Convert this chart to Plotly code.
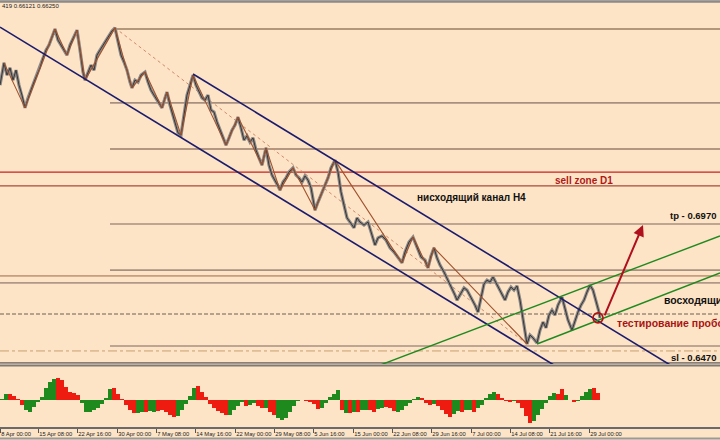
import plotly.graph_objects as go

# ---------------- data ----------------
# price path (bar index, price)
price_x = [0, 4, 7, 10, 13, 16, 19, 22, 25, 28, 31, 34, 37, 40, 43, 46, 49, 52, 55, 58,
           61, 64, 67, 70, 73, 77, 80, 83, 85, 88, 91, 94, 97, 100, 103, 106, 109, 112, 115, 118,
           121, 124, 127, 130, 132, 135, 138, 141, 145, 148, 151, 154, 157, 160, 162, 165, 167, 170, 173, 176,
           178, 181, 184, 187, 190, 193, 196, 199, 202, 205, 208, 211, 214, 217, 220, 223, 226, 229, 232, 235,
           238, 241, 244, 247, 250, 253, 256, 259, 262, 266, 269, 272, 275, 278, 280, 283, 286, 289, 293, 296,
           299, 302, 305, 308, 311, 313, 315, 318, 321, 325, 328, 331, 335, 338, 341, 344, 347, 350, 354, 357,
           360, 364, 368, 372, 375, 378, 382, 386, 390, 394, 398, 402, 405, 409, 413, 417, 421, 425, 428, 431,
           434, 437, 440, 444, 448, 452, 455, 457, 461, 464, 467, 471, 475, 478, 481, 484, 487, 490, 493, 496,
           499, 502, 505, 508, 511, 514, 517, 520, 522, 524, 527, 530, 533, 537, 540, 543, 546, 549, 552, 555,
           558, 562, 565, 568, 572, 575, 578, 581, 584, 587, 590, 593, 596, 599, 600]
price_y = [0.7470, 0.7550, 0.7506, 0.7532, 0.7488, 0.7524, 0.7470, 0.7434, 0.7388, 0.7424,
           0.7452, 0.7481, 0.7506, 0.7532, 0.7568, 0.7596, 0.7614, 0.7640, 0.7672, 0.7632,
           0.7614, 0.7596, 0.7578, 0.7614, 0.7640, 0.7668, 0.7596, 0.7517, 0.7488, 0.7517,
           0.7542, 0.7524, 0.7578, 0.7596, 0.7614, 0.7632, 0.7650, 0.7665, 0.7676, 0.7632,
           0.7578, 0.7553, 0.7524, 0.7481, 0.7460, 0.7488, 0.7481, 0.7506, 0.7517, 0.7481,
           0.7452, 0.7434, 0.7416, 0.7398, 0.7388, 0.7424, 0.7445, 0.7398, 0.7362, 0.7326,
           0.7298, 0.7290, 0.7362, 0.7434, 0.7470, 0.7506, 0.7470, 0.7445, 0.7424, 0.7416,
           0.7434, 0.7380, 0.7373, 0.7337, 0.7308, 0.7280, 0.7254, 0.7280, 0.7308, 0.7326,
           0.7355, 0.7316, 0.7272, 0.7287, 0.7265, 0.7280, 0.7236, 0.7208, 0.7182, 0.7244,
           0.7182, 0.7146, 0.7128, 0.7107, 0.7092, 0.7121, 0.7136, 0.7157, 0.7172, 0.7146,
           0.7136, 0.7121, 0.7143, 0.7128, 0.7100, 0.7056, 0.7020, 0.7049, 0.7074, 0.7110,
           0.7136, 0.7172, 0.7200, 0.7157, 0.7085, 0.7038, 0.6992, 0.6977, 0.6956, 0.6992,
           0.6977, 0.6966, 0.6977, 0.6930, 0.6894, 0.6920, 0.6927, 0.6912, 0.6884, 0.6869,
           0.6848, 0.6830, 0.6869, 0.6905, 0.6923, 0.6884, 0.6851, 0.6840, 0.6812, 0.6855,
           0.6884, 0.6848, 0.6822, 0.6797, 0.6768, 0.6740, 0.6714, 0.6696, 0.6722, 0.6740,
           0.6732, 0.6707, 0.6678, 0.6653, 0.6704, 0.6754, 0.6768, 0.6761, 0.6779, 0.6758,
           0.6740, 0.6714, 0.6696, 0.6725, 0.6743, 0.6732, 0.6747, 0.6696, 0.6653, 0.6596,
           0.6538, 0.6570, 0.6560, 0.6542, 0.6588, 0.6617, 0.6596, 0.6642, 0.6660, 0.6642,
           0.6678, 0.6707, 0.6668, 0.6624, 0.6588, 0.6624, 0.6653, 0.6678, 0.6696, 0.6725,
           0.6750, 0.6732, 0.6696, 0.6653, 0.6632]

# ZigZag pivots
zig_x = [4, 25, 55, 67, 77, 85, 115, 132, 145, 162, 167, 181, 193, 226, 238, 262, 266, 280,
         293, 315, 335, 402, 413, 428, 434, 527]
zig_y = [0.7550, 0.7388, 0.7672, 0.7578, 0.7668, 0.7488, 0.7676, 0.7460, 0.7517, 0.7388,
         0.7445, 0.7290, 0.7506, 0.7254, 0.7355, 0.7182, 0.7244, 0.7092, 0.7172, 0.7020,
         0.7200, 0.6830, 0.6923, 0.6812, 0.6884, 0.6538]

# dotted trend line (high -> low)
trend_x = [115, 527]
trend_y = [0.7676, 0.6538]

# descending channel H4
down_lower_x = [0, 560]
down_lower_y = [0.7679, 0.6449]
down_upper_x = [193, 675]
down_upper_y = [0.7510, 0.6452]

# ascending channel
up_upper_x = [380, 720]
up_upper_y = [0.6462, 0.6927]
up_lower_x = [537, 720]
up_lower_y = [0.6538, 0.6794]

# horizontal levels
level_prices = [0.7672, 0.7406, 0.7240, 0.7157, 0.7107, 0.6970, 0.6804, 0.6783,
                0.6758, 0.6646, 0.6531, 0.6513, 0.6470]
level_start = [113, 110, 110, 0, 0, 110, 110, 0, 0, 0, 110, 0, 0]

# trade idea
entry_x, entry_y = 598, 0.6632
arrow_tail = (604, 0.6636)
arrow_tip = (643, 0.6966)

# oscillator histogram
osc_x = [2 + 4 * i for i in range(150)]
osc_v = [1, 6, 6, 4, 1, -5, -10, -12, -7, -2, 3, 12, 18, 21, 22, 20, 13, 8, 7, 5,
         -3, -12, -12, -10, -8, -4, 2, 11, 12, 6, 1, -5, -10, -13, -13, -12, -12, -11, -12, -11,
         -10, -12, -15, -17, -16, -10, -4, 4, 12, 14, 8, 3, -4, -8, -11, -13, -15, -15, -10, -6,
         -2, -6, -5, -3, -6, -8, -8, -12, -15, -18, -20, -18, -12, -6, -1, 0, -1, -2, -4, -9,
         -8, -3, 3, 6, 10, -10, -13, -13, -12, -12, -10, -10, -10, -12, -9, -8, -7, -8, -11, -12,
         -10, -6, -3, 1, 3, 2, -3, -5, -4, -6, -10, -14, -17, -14, -11, -12, -10, -10, -12, -8,
         -5, 2, 6, 8, 6, 2, -1, -2, -1, -3, -8, -16, -23, -21, -15, -9, -3, 4, 7, 6,
         11, 5, 0, -2, -1, 4, 8, 11, 12, 7]
osc_state = ("ggrrrrggggggggrrrrrr" "ggggggggrrrrrrggrggr" "rrrrgggggrrrrrrrrggg"
             "grggrrgrrggggggrrrrr" "gggggrgrgrggrrggrrrg" "gggggrrrgrrrrggrggrg"
             "ggggrrrrgrrrrggggggr" "rgrrggggrr")

tick_pos = [0, 38, 77, 117, 156, 195, 235, 274, 313, 353, 392, 431, 471, 510, 549, 589]
tick_text = ["8 Apr 00:00", "15 Apr 08:00", "22 Apr 16:00", "30 Apr 00:00", "7 May 08:00",
             "14 May 16:00", "22 May 00:00", "29 May 08:00", "5 Jun 16:00", "15 Jun 00:00",
             "22 Jun 08:00", "29 Jun 16:00", "7 Jul 00:00", "14 Jul 08:00", "21 Jul 16:00",
             "29 Jul 00:00"]

# ---------------- styles ----------------
BG = "#FDE4C6"
level_styles = [
    dict(color="#6b4a30", width=1.2, dash="solid"),
    dict(color="#a89080", width=1.6, dash="solid"),
    dict(color="#6b4a3a", width=1.0, dash="solid"),
    dict(color="#c82020", width=1.3, dash="solid"),
    dict(color="#a84a38", width=1.3, dash="solid"),
    dict(color="#a89080", width=1.6, dash="solid"),
    dict(color="#a89080", width=1.6, dash="solid"),
    dict(color="#a06848", width=1.0, dash="solid"),
    dict(color="#b09888", width=1.6, dash="solid"),
    dict(color="#6e5e50", width=1.0, dash="4px,2px"),
    dict(color="#a89080", width=1.6, dash="solid"),
    dict(color="#c8a070", width=1.0, dash="dashdot"),
    dict(color="#8a8078", width=1.6, dash="solid"),
]

fig = go.Figure()

for p, s, st in zip(level_prices, level_start, level_styles):
    fig.add_trace(go.Scatter(x=[s, 720], y=[p, p], mode="lines", line=st,
                             hoverinfo="skip", showlegend=False))

# dotted trend line
fig.add_trace(go.Scatter(x=trend_x, y=trend_y, mode="lines",
                         line=dict(color="#d08a6a", width=1, dash="dot"), showlegend=False))

# price (thick light + thin dark to mimic bars)
fig.add_trace(go.Scatter(x=price_x, y=price_y, mode="lines",
                         line=dict(color="#8c8a88", width=3.2), showlegend=False))
fig.add_trace(go.Scatter(x=price_x, y=price_y, mode="lines",
                         line=dict(color="#3a3636", width=1.0), showlegend=False))

# zigzag
fig.add_trace(go.Scatter(x=zig_x, y=zig_y, mode="lines",
                         line=dict(color="#a0522d", width=1.1), showlegend=False))

# channels
navy = "#1c1c6e"
fig.add_trace(go.Scatter(x=down_lower_x, y=down_lower_y, mode="lines",
                         line=dict(color=navy, width=1.6), showlegend=False))
fig.add_trace(go.Scatter(x=down_upper_x, y=down_upper_y, mode="lines",
                         line=dict(color=navy, width=1.6), showlegend=False))
green = "#1f8a1f"
fig.add_trace(go.Scatter(x=up_upper_x, y=up_upper_y, mode="lines",
                         line=dict(color=green, width=1.4), showlegend=False))
fig.add_trace(go.Scatter(x=up_lower_x, y=up_lower_y, mode="lines",
                         line=dict(color=green, width=1.4), showlegend=False))

# entry circle
fig.add_trace(go.Scatter(x=[entry_x], y=[entry_y], mode="markers",
                         marker=dict(symbol="circle-open", size=10, color="#b01010",
                                     line=dict(width=1.6, color="#b01010")),
                         showlegend=False))

# oscillator
osc_colors = ["#1e8a1e" if c == "g" else "#ee1c10" for c in osc_state]
fig.add_trace(go.Bar(x=osc_x, y=osc_v, width=4, marker=dict(color=osc_colors, line=dict(width=0)),
                     xaxis="x2", yaxis="y2", showlegend=False))

FONT = "Liberation Sans, Arial, sans-serif"
ann = [
    dict(x=584, y=0.7128, text="<b>sell zone D1</b>", font=dict(color="#b01818", size=10)),
    dict(x=415, y=0.7067, text="<b>нисходящий канал H4</b>", xanchor="left",
         font=dict(color="#111111", size=10)),
    dict(x=718, y=0.7002, text="<b>tp - 0.6970</b>", xanchor="right",
         font=dict(color="#111111", size=9.5)),
    dict(x=662, y=0.6696, text="<b>восходящий канал</b>", xanchor="left",
         font=dict(color="#111111", size=10.5)),
    dict(x=615, y=0.6614, text="<b>тестирование пробоя</b>", xanchor="left",
         font=dict(color="#a81414", size=10.5)),
    dict(x=718, y=0.6491, text="<b>sl - 0.6470</b>", xanchor="right",
         font=dict(color="#111111", size=9.5)),
]
annotations = []
for a in ann:
    d = dict(xref="x", yref="y", showarrow=False, yanchor="middle", xanchor="center")
    d.update(a)
    d["font"] = dict(family=FONT, **a["font"])
    annotations.append(d)

annotations.append(dict(xref="x", yref="y", axref="x", ayref="y",
                        x=arrow_tip[0], y=arrow_tip[1], ax=arrow_tail[0], ay=arrow_tail[1],
                        text="", showarrow=True, arrowhead=2, arrowsize=1.1, arrowwidth=2,
                        arrowcolor="#b0101e"))
annotations.append(dict(xref="paper", yref="paper", x=0, y=1 - 6 / 440, xanchor="left",
                        yanchor="middle", showarrow=False, text="419 0.66121 0.66250",
                        font=dict(family=FONT, size=6, color="#222222")))

shapes = [
    dict(type="line", xref="paper", yref="paper", x0=0, x1=1, y0=1 - 1.5 / 440, y1=1 - 1.5 / 440,
         line=dict(color="#8a8a8a", width=2.5)),
    dict(type="line", xref="paper", yref="paper", x0=0, x1=1, y0=1 - 365.5 / 440, y1=1 - 365.5 / 440,
         line=dict(color="#7e7a76", width=2)),
    dict(type="line", xref="paper", yref="paper", x0=0, x1=1, y0=1 - 438.5 / 440, y1=1 - 438.5 / 440,
         line=dict(color="#9a9a9a", width=2)),
]

fig.update_layout(
    width=720, height=440,
    margin=dict(l=0, r=0, t=0, b=0),
    paper_bgcolor=BG, plot_bgcolor=BG,
    bargap=0,
    xaxis=dict(domain=[0, 1], range=[0, 720], visible=False, anchor="y"),
    yaxis=dict(domain=[1 - 364 / 440, 1 - 3 / 440], range=[0.6466, 0.77656], visible=False,
               anchor="x"),
    xaxis2=dict(domain=[0, 1], range=[0, 720], anchor="y2", showgrid=False, zeroline=False,
                showline=True, linecolor="#6a6a6a", linewidth=1.5,
                ticks="outside", ticklen=4, tickcolor="#555555", tickwidth=1, tickangle=0,
                tickvals=tick_pos, ticktext=tick_text, ticklabelposition="outside right",
                tickfont=dict(family=FONT, size=5.8, color="#222222")),
    yaxis2=dict(domain=[1 - 427 / 440, 1 - 367 / 440], range=[-27, 33], visible=False,
                anchor="x2"),
    annotations=annotations,
    shapes=shapes,
)

fig.write_html("out.html", config={"displayModeBar": False},
               post_script="document.body.style.margin='0';document.body.style.overflow='hidden';")
